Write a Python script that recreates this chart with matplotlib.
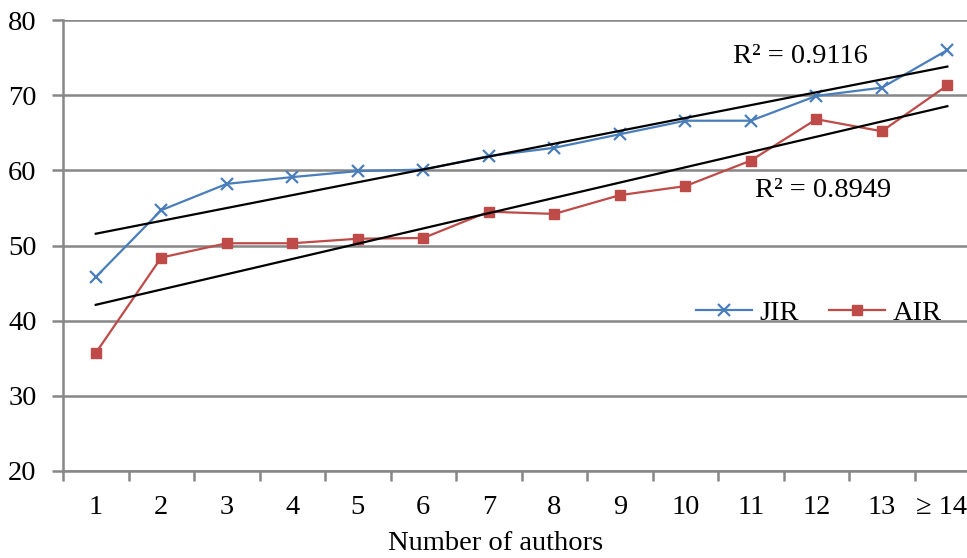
import matplotlib.pyplot as plt
import numpy as np
from matplotlib.transforms import ScaledTranslation

plt.rcParams['font.family'] = ['Liberation Serif', 'DejaVu Serif']

# data
authors = list(range(1, 15))
tick_labels = ['1', '2', '3', '4', '5', '6', '7', '8', '9', '10', '11', '12', '13', '≥ 14']
jir = [45.8, 54.7, 58.2, 59.1, 59.9, 60.1, 61.9, 63.0, 64.8, 66.6, 66.6, 69.9, 71.0, 76.0]
air = [35.7, 48.4, 50.3, 50.3, 50.9, 51.0, 54.5, 54.2, 56.7, 57.9, 61.3, 66.8, 65.2, 71.3]
r2_jir = "R² = 0.9116"
r2_air = "R² = 0.8949"

grid_col = '#878787'
blue = '#4A7EBB'
red = '#BE4B48'
fs = 20.5

fig = plt.figure(figsize=(9.67, 5.58), dpi=100)
ax = fig.add_axes([63/967, 1 - 471/558, 1 - 63/967, (471 - 20)/558])

ax.set_ylim(20, 80)
ax.set_xlim(0.5, 14.3)
ax.set_yticks(np.arange(20, 81, 10))
ax.yaxis.grid(True, color=grid_col, linewidth=1.8)
ax.set_axisbelow(True)

for side in ['top', 'right']:
    ax.spines[side].set_visible(False)
for side in ['left', 'bottom']:
    ax.spines[side].set_color(grid_col)
    ax.spines[side].set_linewidth(1.8)

# category labels centered, tick marks between categories
ax.set_xticks(authors)
ax.set_xticklabels(tick_labels)
ax.set_xticks(np.arange(0.5, 14.5, 1), minor=True)
ax.tick_params(axis='x', which='major', length=0, pad=17, labelsize=fs)
ax.tick_params(axis='x', which='minor', length=7, width=1.8, color=grid_col)
ax.tick_params(axis='y', length=8, width=1.8, color=grid_col, labelsize=fs, pad=11)

# keep the last label inside the picture
last = ax.get_xticklabels()[-1]
last.set_transform(last.get_transform() + ScaledTranslation(-6/100, 0, fig.dpi_scale_trans))

ax.plot(authors, jir, color=blue, lw=1.6, marker='x', ms=9, mew=1.6, label='JIR')
ax.plot(authors, air, color=red, lw=1.6, marker='s', ms=7, label='AIR')

# linear trend lines
x = np.array(authors)
for ys in [jir, air]:
    k, b = np.polyfit(x, ys, 1)
    ax.plot(x, k * x + b, color='black', lw=1.6)

ax.text(11.75, 75.2, r2_jir, fontsize=fs, ha='center', va='center')
ax.text(12.1, 57.3, r2_air, fontsize=fs, ha='center', va='center')

ax.legend(loc='center right', bbox_to_anchor=(0.972, 0.35), frameon=False, ncol=2,
          fontsize=fs, handlelength=1.95, columnspacing=1.05, handletextpad=0.28,
          borderpad=0, borderaxespad=0)

ax.set_xlabel('Number of authors', fontsize=fs)
ax.xaxis.set_label_coords(0.478, -0.16)
ax.xaxis.label.set_va('center')

fig.savefig('out.png', dpi=100)
